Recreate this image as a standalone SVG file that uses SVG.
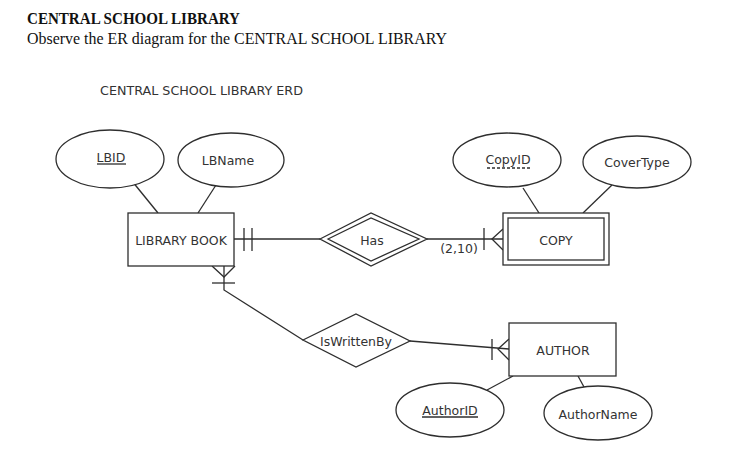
<svg xmlns="http://www.w3.org/2000/svg" width="742" height="457" viewBox="0 0 742 457">
<style>
.ln{stroke:#2e2e2e;stroke-width:1.3;fill:none}
.sh{stroke:#2e2e2e;stroke-width:1.3;fill:#fff}
.lb{font-family:"DejaVu Sans","Verdana",sans-serif;font-size:12.5px;fill:#333;text-anchor:middle;dominant-baseline:central}
.hd{font-family:"Liberation Serif","Times New Roman",serif;font-size:16px;fill:#111}
</style>
<rect width="742" height="457" fill="#fff"/>
<g id="header">
<text class="hd" x="27" y="24" font-weight="bold" textLength="213" lengthAdjust="spacingAndGlyphs">CENTRAL SCHOOL LIBRARY</text>
<text class="hd" x="27" y="44" textLength="420" lengthAdjust="spacingAndGlyphs">Observe the ER diagram for the CENTRAL SCHOOL LIBRARY</text>
<text x="100" y="95" font-family="DejaVu Sans, Verdana, sans-serif" font-size="12.5" fill="#333" textLength="203" lengthAdjust="spacingAndGlyphs">CENTRAL SCHOOL LIBRARY ERD</text>
</g>
<g id="connectors">
<line class="ln" x1="132" y1="181" x2="158" y2="213"/>
<line class="ln" x1="216" y1="185" x2="198" y2="213"/>
<line class="ln" x1="523" y1="188" x2="539" y2="213"/>
<line class="ln" x1="612" y1="185" x2="583" y2="213"/>
<line class="ln" x1="487" y1="390" x2="513" y2="376"/>
<line class="ln" x1="578" y1="376" x2="584" y2="387"/>
<line class="ln" x1="234" y1="239" x2="320" y2="239"/>
<line class="ln" x1="244" y1="228" x2="244" y2="251"/>
<line class="ln" x1="252" y1="228" x2="252" y2="251"/>
<line class="ln" x1="427" y1="239" x2="503" y2="239"/>
<line class="ln" x1="484" y1="228" x2="484" y2="250"/>
<polyline class="ln" points="503,229 492,239 503,250"/>
<polyline class="ln" points="224,266 224,290 303,340"/>
<polyline class="ln" points="212,266 224,277 235,266"/>
<line class="ln" x1="212" y1="283" x2="235" y2="283"/>
<line class="ln" x1="410" y1="341" x2="509" y2="349"/>
<line class="ln" x1="492" y1="339" x2="492" y2="360"/>
<polyline class="ln" points="509,339 498,349 509,360"/>
</g>
<g id="LBID">
<ellipse class="sh" cx="110" cy="159" rx="54" ry="29"/>
<text class="lb" x="111" y="157">LBID</text>
<line class="ln" x1="97" y1="164" x2="126" y2="164" stroke-width="1"/>
</g>
<g id="LBName">
<ellipse class="sh" cx="231" cy="160" rx="53" ry="27"/>
<text class="lb" x="228" y="160">LBName</text>
</g>
<g id="LIBRARY_BOOK">
<rect class="sh" x="128" y="213" width="106" height="53"/>
<text class="lb" x="181" y="240">LIBRARY BOOK</text>
</g>
<g id="Has">
<polygon class="sh" points="320,239 371,213 427,239 371,266"/>
<polygon class="ln" points="328,239 371,218 419,239 371,261"/>
<text class="lb" x="372" y="240">Has</text>
</g>
<g id="CopyID">
<ellipse class="sh" cx="507" cy="160" rx="54" ry="27"/>
<text class="lb" x="508" y="159">CopyID</text>
<line class="ln" x1="487" y1="168" x2="530" y2="168" stroke-width="1" stroke-dasharray="3,2"/>
</g>
<g id="CoverType">
<ellipse class="sh" cx="637" cy="162" rx="54" ry="26"/>
<text class="lb" x="637" y="162">CoverType</text>
</g>
<g id="COPY">
<rect class="sh" x="503" y="213" width="106" height="52"/>
<rect class="ln" x="508" y="218" width="96" height="42"/>
<text class="lb" x="556" y="240">COPY</text>
</g>
<g id="cardinality">
<text class="lb" x="459" y="248">(2,10)</text>
</g>
<g id="IsWrittenBy">
<polygon class="sh" points="303,340 356,314 410,341 356,367"/>
<text class="lb" x="356" y="341">IsWrittenBy</text>
</g>
<g id="AUTHOR">
<rect class="sh" x="509" y="323" width="107" height="53"/>
<text class="lb" x="563" y="350">AUTHOR</text>
</g>
<g id="AuthorID">
<ellipse class="sh" cx="450" cy="410" rx="54" ry="27"/>
<text class="lb" x="450" y="410">AuthorID</text>
<line class="ln" x1="422" y1="417" x2="478" y2="417" stroke-width="1"/>
</g>
<g id="AuthorName">
<ellipse class="sh" cx="598" cy="413" rx="54" ry="27"/>
<text class="lb" x="598" y="414">AuthorName</text>
</g>
</svg>
